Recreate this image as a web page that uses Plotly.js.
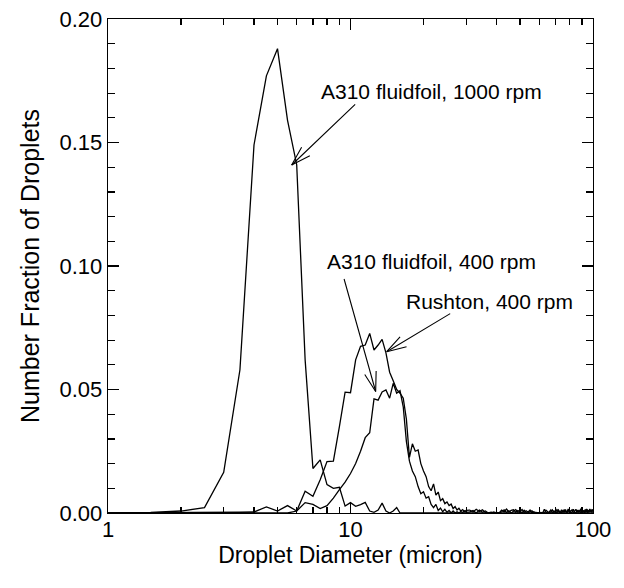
<!DOCTYPE html>
<html>
<head>
<meta charset="utf-8">
<script src="https://cdn.plot.ly/plotly-3.0.1.min.js"></script>
<style>
  html, body { margin: 0; padding: 0; background: #ffffff; }
  #chart { width: 624px; height: 588px; }
</style>
</head>
<body>
<div id="chart"></div>
<script>
// Droplet diameter bins (micron)
const diameter = [
  1.0, 1.5, 2.0, 2.5, 3.0, 3.5, 4.0, 4.5, 5.0, 5.5,
  6.0, 6.5, 7.0, 7.5, 8.0, 8.5, 9.0, 9.5, 10.0, 10.5,
  11.0, 11.5, 12.0, 12.5, 13.0, 13.5, 14.0, 14.5, 15.0, 15.5,
  16.0, 16.5, 17.0, 17.5, 18.0, 18.5, 19.0, 19.5, 20.0, 20.5,
  21.0, 21.5, 22.0, 22.5, 23.0, 23.5, 24.0, 24.5, 25.0, 25.5,
  26.0, 26.5, 27.0, 27.5, 28.0, 28.5, 29.0, 29.5, 30.0,
  31, 32, 33, 34, 35, 36, 37, 38, 39, 40,
  41, 42, 43, 44, 45, 46, 47, 48, 49, 50,
  51, 52, 53, 54, 55, 56, 57, 58, 59, 60,
  61, 62, 63, 64, 65, 66, 67, 68, 69, 70,
  71, 72, 73, 74, 75, 76, 77, 78, 79, 80,
  81, 82, 83, 84, 85, 86, 87, 88, 89, 90,
  91, 92, 93, 94, 95, 96, 97, 98, 99, 100
];

// A310 fluidfoil, 1000 rpm
const a310_1000 = [
  0, 0.0002, 0.0008, 0.0022, 0.0165, 0.058, 0.149, 0.177, 0.188, 0.159,
  0.141, 0.062, 0.018, 0.0215, 0.0115, 0.0100, 0.0104, 0.0028, 0.0042, 0.0027,
  0.0034, 0.0043, 0.0008, 0.0003, 0.0012, 0.0040, 0.0008, 0.0, 0.0008, 0.0022,
  0, 0, 0, 0, 0, 0, 0, 0, 0, 0,
  0, 0, 0, 0, 0, 0, 0, 0, 0, 0,
  0, 0, 0, 0, 0, 0, 0, 0, 0,
  0, 0, 0, 0, 0, 0, 0, 0, 0, 0,
  0, 0, 0, 0, 0, 0, 0, 0, 0, 0,
  0, 0, 0, 0, 0, 0, 0, 0, 0, 0,
  0, 0, 0, 0, 0, 0, 0, 0, 0, 0,
  0, 0, 0, 0, 0, 0, 0, 0, 0, 0,
  0, 0, 0, 0, 0, 0, 0, 0, 0, 0,
  0, 0, 0, 0, 0, 0, 0, 0, 0, 0
];

// A310 fluidfoil, 400 rpm
const a310_400 = [
  0, 0, 0, 0, 0, 0.0003, 0.0004, 0.0025, 0.0008, 0.0030,
  0.0008, 0.0042, 0.0035, 0.0018, 0.0030, 0.0060, 0.0095, 0.0125, 0.0160, 0.0200,
  0.0250, 0.0305, 0.0325, 0.0462, 0.0457, 0.0490, 0.0498, 0.0465, 0.0525, 0.0485,
  0.0495, 0.0430, 0.0290, 0.0210, 0.0170, 0.0147, 0.0107, 0.0078, 0.0086, 0.0060,
  0.0066, 0.0035, 0.0022, 0.0035, 0.0010, 0.0020, 0.0005, 0.0015, 0.0003, 0.0010,
  0.0, 0.0008, 0.0, 0.0005, 0.0, 0.0006, 0.0002, 0.0009, 0.0003,
  0.0005, 0.0010, 0.0, 0.0012, 0.0003, 0.0008, 0.0, 0.0, 0.0004, 0.0,
  0.0, 0.0005, 0.0013, 0.0002, 0.0009, 0.0, 0.0006, 0.0014, 0.0003, 0.0008,
  0.0, 0.0011, 0.0002, 0.0, 0.0006, 0.0009, 0.0, 0.0, 0.0003, 0.0,
  0.0, 0.0002, 0.0, 0.0011, 0.0004, 0.0, 0.0005, 0.0013, 0.0002, 0.0009,
  0.0, 0.0012, 0.0004, 0.0, 0.0010, 0.0003, 0.0014, 0.0002, 0.0006, 0.0011,
  0.0, 0.0005, 0.0015, 0.0003, 0.0, 0.0012, 0.0004, 0.0009, 0.0, 0.0013,
  0.0005, 0.0010, 0.0002, 0.0016, 0.0, 0.0011, 0.0004, 0.0013, 0.0002, 0.0015
];

// Rushton, 400 rpm
const rushton_400 = [
  0, 0, 0, 0, 0, 0, 0, 0, 0, 0,
  0.0008, 0.0088, 0.0068, 0.0135, 0.0208, 0.0210, 0.0350, 0.0489, 0.0487, 0.0620,
  0.0675, 0.0680, 0.0727, 0.0660, 0.0680, 0.0703, 0.0648, 0.0570, 0.0535, 0.0500,
  0.0485, 0.0465, 0.0380, 0.0225, 0.0280, 0.0250, 0.0255, 0.0200, 0.0170, 0.0147,
  0.0107, 0.0090, 0.0118, 0.0072, 0.0085, 0.0050, 0.0058, 0.0038, 0.0045, 0.0030,
  0.0036, 0.0018, 0.0026, 0.0012, 0.0019, 0.0008, 0.0014, 0.0005, 0.0011,
  0.0012, 0.0004, 0.0015, 0.0006, 0.0013, 0.0002, 0.0, 0.0003, 0.0, 0.0002,
  0.0, 0.0012, 0.0005, 0.0016, 0.0004, 0.0011, 0.0013, 0.0003, 0.0010, 0.0006,
  0.0014, 0.0002, 0.0009, 0.0004, 0.0012, 0.0, 0.0005, 0.0002, 0.0, 0.0,
  0.0002, 0.0, 0.0015, 0.0003, 0.0, 0.0004, 0.0012, 0.0, 0.0008, 0.0003,
  0.0014, 0.0005, 0.0, 0.0011, 0.0002, 0.0013, 0.0006, 0.0, 0.0016, 0.0004,
  0.0009, 0.0013, 0.0, 0.0007, 0.0015, 0.0002, 0.0010, 0.0004, 0.0017, 0.0003,
  0.0011, 0.0, 0.0014, 0.0006, 0.0012, 0.0003, 0.0016, 0.0005, 0.0013, 0.0008
];

// Labels and where their arrows point (data coordinates of arrow tip)
const labelText = ["A310 fluidfoil, 1000 rpm", "A310 fluidfoil, 400 rpm", "Rushton, 400 rpm"];
const arrowTipX = [5.72, 12.7, 14.1];
const arrowTipY = [0.1409, 0.0492, 0.0653];
// label anchor positions (data coordinates, centre of text)
const labelX = [21.5, 21.6, 37.6];
const labelY = [0.1705, 0.1018, 0.0856];

const xTickVals = [1, 10, 100];
const xTickText = ["1", "10", "100"];
const xMinorVals = [2, 3, 4, 5, 6, 7, 8, 9, 20, 30, 40, 50, 60, 70, 80, 90];

const FONT = "Liberation Sans, Arial, Helvetica, sans-serif";

const lineStyle = {color: "#000000", width: 1.3};
const traces = [
  {x: diameter, y: a310_1000, name: labelText[0]},
  {x: diameter, y: a310_400, name: labelText[1]},
  {x: diameter, y: rushton_400, name: labelText[2]}
].map(t => Object.assign(t, {type: "scatter", mode: "lines", line: lineStyle, hoverinfo: "skip"}));

// arrow geometry (pixel offsets of tails from tips)
const tailOffsets = [[65, -62], [-32, -114], [65, -39]];
const barbLen = 22, barbAngle = 17 * Math.PI / 180;

const annotations = [];
labelText.forEach((txt, i) => {
  annotations.push({
    x: Math.log10(labelX[i]), y: labelY[i], xref: "x", yref: "y",
    text: txt, showarrow: false, xanchor: "center", yanchor: "middle",
    font: {family: FONT, size: 21, color: "#000"}
  });
  const [tx, ty] = tailOffsets[i];
  const base = {x: Math.log10(arrowTipX[i]), y: arrowTipY[i], xref: "x", yref: "y",
    text: "", showarrow: true, arrowhead: 0, arrowwidth: 1.1, arrowcolor: "#000",
    standoff: 0, startstandoff: 0, axref: "pixel", ayref: "pixel"};
  annotations.push(Object.assign({}, base, {ax: tx, ay: ty}));
  const th = Math.atan2(ty, tx);
  [1, -1].forEach(s => {
    annotations.push(Object.assign({}, base, {
      ax: barbLen * Math.cos(th + s * barbAngle),
      ay: barbLen * Math.sin(th + s * barbAngle)
    }));
  });
});

const axisCommon = {
  showline: true, linecolor: "#000", linewidth: 1.3, mirror: "ticks",
  ticks: "inside", tickcolor: "#000", tickwidth: 1.2, ticklen: 11,
  showgrid: false, zeroline: false,
  tickfont: {family: FONT, size: 22, color: "#000"}
};

const layout = {
  width: 624, height: 588,
  margin: {l: 108, r: 31, t: 19, b: 75},
  paper_bgcolor: "#fff", plot_bgcolor: "#fff",
  showlegend: false,
  xaxis: Object.assign({}, axisCommon, {
    type: "log", range: [0, 2],
    tickmode: "array", tickvals: xTickVals, ticktext: xTickText,
    ticklabelstandoff: -4,
    minor: {tickmode: "array", tickvals: xMinorVals, ticks: "inside", ticklen: 6, tickcolor: "#000", tickwidth: 1.2},
    title: {text: "Droplet Diameter (micron)", font: {family: FONT, size: 23, color: "#000"}, standoff: 1}
  }),
  yaxis: Object.assign({}, axisCommon, {
    range: [0, 0.2], tickmode: "linear", tick0: 0, dtick: 0.05, tickformat: ".2f",
    minor: {dtick: 0.01, ticks: "inside", ticklen: 7, tickcolor: "#000", tickwidth: 1.2},
    title: {text: "Number Fraction of Droplets", font: {family: FONT, size: 25, color: "#000"}, standoff: 12}
  }),
  annotations: annotations
};

Plotly.newPlot("chart", traces, layout, {displayModeBar: false, staticPlot: true});
</script>
</body>
</html>
